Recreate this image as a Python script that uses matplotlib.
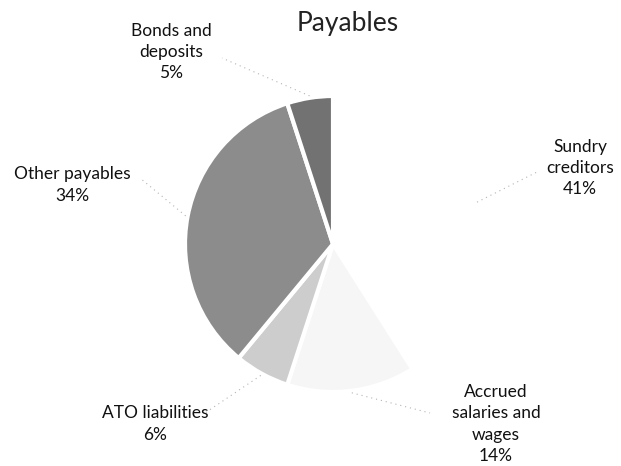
import matplotlib
matplotlib.use("Agg")
import matplotlib.pyplot as plt
import numpy as np

plt.rcParams["font.family"] = ["Lato", "DejaVu Sans"]

# slice data, drawn clockwise from 12 o'clock
categories = ["Sundry\ncreditors", "Accrued\nsalaries and\nwages", "ATO liabilities",
              "Other payables", "Bonds and\ndeposits"]
shares = [41, 14, 6, 34, 5]
colors = ["#ffffff", "#f6f6f6", "#cdcdcd", "#8c8c8c", "#727272"]

# label centres and leader end points, in pixels from the top-left corner
label_pos = [(580, 168), (496, 424), (155, 424), (72, 185), (171, 52)]
leader_end = [(537, 172), (430, 413), (205, 413), (140, 178), (222, 58)]

W, H = 621, 466
CX, CY, R = 333, 244, 148


def flip(p):
    return p[0], H - p[1]


fig = plt.figure(figsize=(W / 100, H / 100), dpi=100)
ax = fig.add_axes([0, 0, 1, 1])

wedges, _ = ax.pie(shares, colors=colors, startangle=90, counterclock=False,
                   center=flip((CX, CY)), radius=R,
                   wedgeprops=dict(edgecolor="white", linewidth=3))

for w, name, v, lp, le in zip(wedges, categories, shares, label_pos, leader_end):
    mid = np.deg2rad((w.theta1 + w.theta2) / 2)
    x0 = w.center[0] + (w.r + 2) * np.cos(mid)
    y0 = w.center[1] + (w.r + 2) * np.sin(mid)
    x1, y1 = flip(le)
    ax.plot([x0, x1], [y0, y1], ls=(0, (1, 3.5)), color="#b4b4b4", lw=0.8)
    tx, ty = flip(lp)
    ax.text(tx, ty, f"{name}\n{v}%", ha="center", va="center", fontsize=12.5,
            color="#111111", linespacing=1.42, multialignment="center")

tx, ty = flip((348, 24))
ax.text(tx, ty, "Payables", ha="center", va="center", fontsize=19,
        color="#222222")

ax.set_xlim(0, W)
ax.set_ylim(0, H)
ax.set_aspect("equal")
ax.axis("off")

fig.savefig("out.png", dpi=100, facecolor="white")
